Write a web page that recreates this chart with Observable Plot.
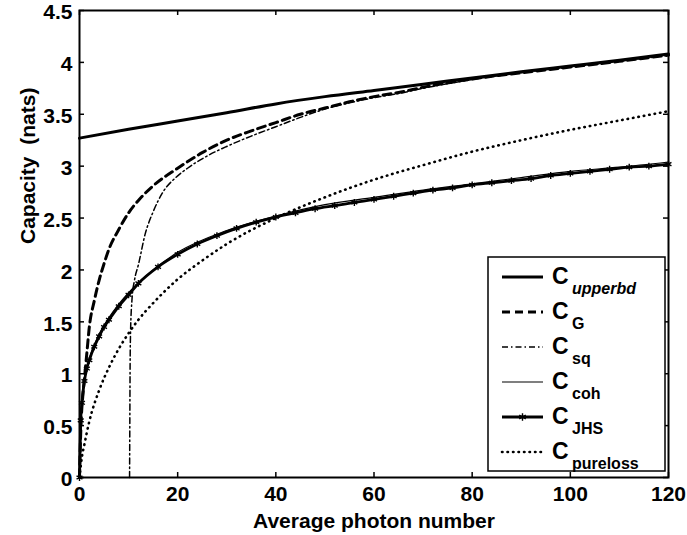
<!DOCTYPE html>
<html><head><meta charset="utf-8">
<script src="https://cdn.jsdelivr.net/npm/d3@7"></script>
<script src="https://cdn.jsdelivr.net/npm/@observablehq/plot@0.6"></script>
<style>
body{margin:0;background:#fff}
#chart{position:relative;width:687px;height:535px}
#legend{position:absolute;left:0;top:0;pointer-events:none}
</style>
</head><body><div id="chart"></div>
<script>
const xTicks = [0,20,40,60,80,100,120];
const yTicks = [0,0.5,1,1.5,2,2.5,3,3.5,4,4.5];
const xTitle = "Average photon number";
const yTitle = "Capacity\u00a0 (nats)";

const upperN = [0,10,20,30,40,50,60,70,80,90,100,110,120];
const upperC = [3.27,3.355,3.435,3.515,3.60,3.67,3.73,3.79,3.85,3.91,3.965,4.02,4.08];

const gN = [0,0.3,0.7,1,1.5,2,3,4,5,6,8,10,12,15,20,25,30,35,40,45,50,55,60,65,70,80,90,100,110,120];
const gC = [0,0.5,0.8,0.95,1.2,1.45,1.7,1.9,2.06,2.2,2.39,2.55,2.67,2.81,2.98,3.13,3.25,3.34,3.42,3.5,3.56,3.62,3.67,3.71,3.76,3.84,3.9,3.955,4.01,4.07];

const sqN = [10.2,10.25,10.3,10.4,10.7,11.2,12,13.4,15,17,19.6,22,25.7,30,35,40,45,50,55,60,65,70,80,90,100,110,120];
const sqC = [0,0.5,1.0,1.4,1.72,1.9,2.05,2.35,2.56,2.75,2.89,2.98,3.09,3.19,3.29,3.38,3.47,3.55,3.61,3.66,3.70,3.75,3.835,3.9,3.955,4.01,4.07];

const cohN = [0,0.5,1,2,4,6,8,10,15,20,30,40,50,60,70,80,90,100,110,120];
const cohC = [0,0.74,0.95,1.15,1.38,1.54,1.67,1.78,2.0,2.17,2.38,2.52,2.63,2.7,2.77,2.83,2.89,2.95,2.99,3.04];

const jhsN = [0,0.25,0.5,1,1.5,2,3,4,5,6,8,10,12,16,20,24,28,32,36,40,44,48,52,56,60,64,68,72,76,80,84,88,92,96,100,104,108,112,116,120];
const jhsC = [0,0.55,0.72,0.93,1.05,1.13,1.26,1.36,1.45,1.52,1.65,1.76,1.87,2.03,2.15,2.25,2.33,2.4,2.46,2.51,2.55,2.59,2.62,2.65,2.68,2.71,2.74,2.77,2.79,2.82,2.84,2.86,2.88,2.91,2.93,2.95,2.97,2.99,3.0,3.02];

const plN = [0,0.5,1,2,4,6,8,10,12,15,20,25,30,40,50,60,70,80,90,100,110,120];
const plC = [0,0.2,0.32,0.54,0.84,1.06,1.24,1.39,1.52,1.68,1.91,2.09,2.25,2.5,2.7,2.87,3.01,3.14,3.25,3.35,3.44,3.53];

const seriesNames = ["upperbd","G","sq","coh","JHS","pureloss"];

const pts = (N, C) => N.map((n, i) => ({x: n, y: C[i]}));
const upper = pts(upperN, upperC), gaus = pts(gN, gC), sq = pts(sqN, sqC),
      coh = pts(cohN, cohC), jhs = pts(jhsN, jhsC), pl = pts(plN, plC);

const font = "'Liberation Sans', Arial, Helvetica, sans-serif";
const styles = {
  upperbd: {strokeWidth: 3},
  G: {strokeWidth: 3, strokeDasharray: "8,5"},
  sq: {strokeWidth: 1.5, strokeDasharray: "6,3,1.5,3"},
  coh: {strokeWidth: 1.2},
  JHS: {strokeWidth: 2.8},
  pureloss: {strokeWidth: 2.6, strokeDasharray: "0.5,5", strokeLinecap: "round"}
};
const curve = "monotone-x";

const plot = Plot.plot({
  width: 687, height: 535,
  marginLeft: 79, marginRight: 19, marginTop: 10, marginBottom: 58,
  style: {fontFamily: font, fontWeight: "bold", fontSize: "20px", background: "#fff", color: "#000", overflow: "visible"},
  x: {domain: [0, 120]},
  y: {domain: [0, 4.5]},
  marks: [
    Plot.line(pl, {x: "x", y: "y", stroke: "black", curve, ...styles.pureloss}),
    Plot.line(coh, {x: "x", y: "y", stroke: "black", curve, ...styles.coh}),
    Plot.line(jhs, {x: "x", y: "y", stroke: "black", curve, ...styles.JHS}),
    Plot.dot(jhs, {x: "x", y: "y", symbol: "asterisk", r: 3.2, stroke: "black", strokeWidth: 1.4}),
    Plot.line(sq, {x: "x", y: "y", stroke: "black", curve, ...styles.sq}),
    Plot.line(gaus, {x: "x", y: "y", stroke: "black", curve, ...styles.G}),
    Plot.line(upper, {x: "x", y: "y", stroke: "black", curve, ...styles.upperbd}),
    Plot.ruleX(xTicks, {x: d => d, insetTop: 462, stroke: "black", strokeWidth: 1.5}),
    Plot.ruleX(xTicks, {x: d => d, insetBottom: 462, stroke: "black", strokeWidth: 1.5}),
    Plot.ruleY(yTicks, {y: d => d, insetRight: 584, stroke: "black", strokeWidth: 1.5}),
    Plot.ruleY(yTicks, {y: d => d, insetLeft: 584, stroke: "black", strokeWidth: 1.5}),
    Plot.frame({stroke: "black", strokeWidth: 2}),
    Plot.axisX(xTicks, {tickSize: 0, tickPadding: 9, fontSize: 21, fontWeight: "bold", label: null, tickFormat: d => String(d)}),
    Plot.axisY(yTicks, {tickSize: 0, tickPadding: 7, dy: 2, fontSize: 21, fontWeight: "bold", label: null, tickFormat: d => String(d)}),
    Plot.text([xTitle], {frameAnchor: "bottom", text: d => d, dy: 36, lineAnchor: "top", fontSize: 21, fontWeight: "bold"}),
    Plot.text([yTitle], {frameAnchor: "left", text: d => d, dx: -51, rotate: -90, lineAnchor: "middle", fontSize: 21, fontWeight: "bold"})
  ]
});
const chart = document.getElementById("chart");
chart.appendChild(plot);

// legend
const svg = d3.select(chart).append("svg").attr("id", "legend")
  .attr("width", 687).attr("height", 535)
  .style("font-family", font).style("font-weight", "bold");
svg.append("rect").attr("x", 488).attr("y", 257).attr("width", 177).attr("height", 214)
  .attr("fill", "white").attr("stroke", "black").attr("stroke-width", 1.5);
seriesNames.forEach((name, i) => {
  const ly = 277 + 35 * i;
  const st = styles[name];
  const g = svg.append("g");
  const ln = g.append("line").attr("x1", 502).attr("x2", 543).attr("y1", ly).attr("y2", ly)
    .attr("stroke", "black").attr("stroke-width", st.strokeWidth);
  if (st.strokeDasharray) ln.attr("stroke-dasharray", st.strokeDasharray);
  if (st.strokeLinecap) ln.attr("stroke-linecap", st.strokeLinecap);
  if (name === "JHS") {
    g.append("path").attr("d", d3.symbol(d3.symbolAsterisk, 40)()).attr("transform", `translate(522.5,${ly})`)
      .attr("stroke", "black").attr("stroke-width", 1.4);
  }
  g.append("text").attr("x", 552).attr("y", ly + 7).attr("font-size", 23).text("C");
  g.append("text").attr("x", 572).attr("y", ly + 17).attr("font-size", 16)
    .attr("font-style", name === "upperbd" ? "italic" : "normal").text(name);
});
</script>
</body></html>
